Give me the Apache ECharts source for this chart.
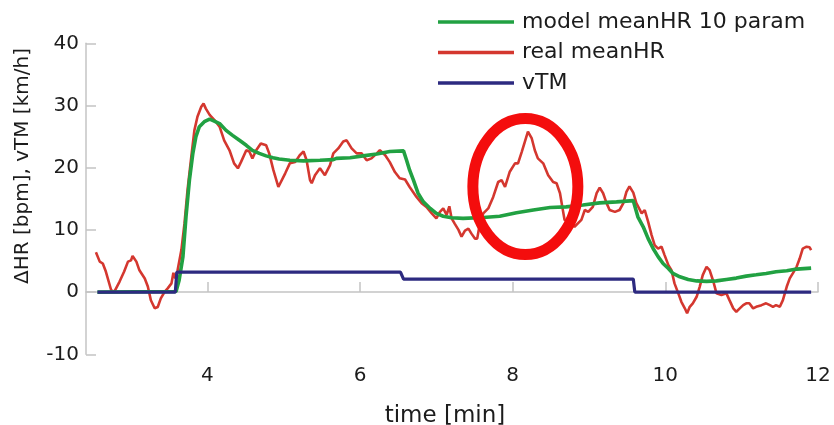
<!DOCTYPE html>
<html>
<head>
<meta charset="utf-8">
<script src="https://cdn.jsdelivr.net/npm/echarts@6/dist/echarts.min.js"></script>
<style>
  html, body { margin: 0; padding: 0; background: #fff; }
  #chart { width: 834px; height: 425px; }
</style>
</head>
<body>
<div id="chart"></div>
<script>
// Measured heart-rate response (real meanHR), time in minutes
const realT = [2.54, 2.59, 2.63, 2.67, 2.74, 2.78, 2.85, 2.91, 2.96, 3.00, 3.02, 3.07, 3.11, 3.18, 3.22, 3.26, 3.31, 3.35, 3.39, 3.44, 3.48, 3.53, 3.555, 3.58, 3.61, 3.66, 3.70, 3.74, 3.79, 3.83, 3.87, 3.92, 3.95, 3.98, 4.03, 4.09, 4.16, 4.22, 4.29, 4.35, 4.40, 4.44, 4.51, 4.55, 4.59, 4.64, 4.70, 4.77, 4.81, 4.865, 4.93, 5.02, 5.08, 5.15, 5.21, 5.26, 5.30, 5.345, 5.367, 5.41, 5.475, 5.54, 5.607, 5.65, 5.715, 5.78, 5.825, 5.89, 5.956, 6.02, 6.087, 6.15, 6.22, 6.26, 6.33, 6.39, 6.457, 6.52, 6.59, 6.65, 6.74, 6.807, 6.87, 6.94, 7.0, 7.047, 7.09, 7.135, 7.17, 7.2, 7.24, 7.29, 7.33, 7.375, 7.42, 7.46, 7.505, 7.535, 7.57, 7.615, 7.68, 7.745, 7.81, 7.855, 7.9, 7.96, 8.03, 8.07, 8.12, 8.16, 8.20, 8.25, 8.29, 8.33, 8.40, 8.465, 8.53, 8.575, 8.62, 8.65, 8.68, 8.73, 8.81, 8.9, 8.945, 8.99, 9.05, 9.1, 9.14, 9.185, 9.23, 9.27, 9.34, 9.40, 9.45, 9.49, 9.53, 9.58, 9.62, 9.69, 9.73, 9.775, 9.82, 9.86, 9.905, 9.95, 9.99, 10.04, 10.08, 10.12, 10.17, 10.21, 10.255, 10.285, 10.32, 10.36, 10.41, 10.45, 10.49, 10.54, 10.58, 10.63, 10.67, 10.735, 10.80, 10.84, 10.89, 10.93, 10.975, 11.02, 11.06, 11.1, 11.15, 11.19, 11.26, 11.32, 11.37, 11.41, 11.45, 11.5, 11.54, 11.59, 11.63, 11.67, 11.72, 11.76, 11.80, 11.85, 11.89, 11.91];
const realHR = [6.4, 4.9, 4.6, 3.3, 0.3, 0.05, 1.7, 3.3, 4.9, 5.1, 5.8, 4.9, 3.5, 2.2, 0.9, -1.3, -2.6, -2.4, -1.0, 0.05, 0.6, 1.4, 3.1, 2.2, 3.5, 6.8, 11.0, 16.4, 21.8, 26.0, 28.2, 29.8, 30.3, 29.5, 28.5, 27.7, 26.6, 24.4, 22.8, 20.7, 19.9, 20.9, 22.8, 22.6, 21.5, 22.8, 23.9, 23.6, 22.3, 19.6, 16.9, 19.1, 20.7, 20.9, 22.0, 22.6, 21.2, 18.0, 17.5, 18.8, 19.9, 18.8, 20.4, 22.3, 23.1, 24.2, 24.4, 23.1, 22.3, 22.3, 21.2, 21.5, 22.3, 22.8, 22.0, 20.9, 19.3, 18.3, 18.1, 16.9, 15.3, 14.3, 13.7, 12.65, 11.85, 12.9, 13.45, 12.4, 13.8, 11.85, 11.0, 10.0, 8.9, 9.9, 10.2, 9.4, 8.6, 8.6, 11.0, 12.65, 13.45, 15.3, 17.7, 18.0, 16.9, 19.3, 20.7, 20.7, 22.6, 24.2, 25.8, 24.7, 22.8, 21.5, 20.7, 18.8, 17.7, 17.5, 15.9, 13.7, 11.6, 11.3, 10.5, 11.6, 13.2, 12.9, 13.7, 15.9, 16.8, 15.9, 14.3, 13.2, 12.9, 13.2, 14.3, 16.1, 17.0, 16.0, 14.3, 12.65, 13.2, 11.3, 9.16, 7.56, 7.0, 7.3, 5.95, 4.34, 3.54, 1.4, -0.2, -1.56, -2.6, -3.4, -2.36, -1.8, -0.75, 0.85, 2.73, 4.07, 3.54, 1.66, -0.2, -0.48, -0.2, -1.29, -2.62, -3.16, -2.62, -2.1, -1.8, -1.8, -2.62, -2.36, -2.1, -1.8, -2.1, -2.36, -2.1, -2.36, -1.29, 0.85, 2.2, 3.0, 4.07, 5.4, 7.0, 7.3, 7.2, 6.75];

// Model output (10-parameter model)
const modelT = [2.56, 3.59, 3.63, 3.68, 3.72, 3.765, 3.81, 3.85, 3.895, 3.96, 4.03, 4.09, 4.16, 4.245, 4.33, 4.42, 4.51, 4.59, 4.68, 4.77, 4.86, 4.94, 5.08, 5.26, 5.475, 5.65, 5.69, 5.87, 6.04, 6.22, 6.39, 6.57, 6.61, 6.65, 6.70, 6.76, 6.83, 6.92, 7.0, 7.09, 7.2, 7.35, 7.615, 7.83, 8.05, 8.27, 8.49, 8.7, 8.92, 9.14, 9.36, 9.58, 9.64, 9.71, 9.775, 9.84, 9.905, 9.97, 10.04, 10.1, 10.19, 10.3, 10.41, 10.54, 10.67, 10.80, 10.93, 11.06, 11.19, 11.32, 11.45, 11.59, 11.72, 11.91];
const modelHR = [0, 0.1, 1.9, 5.7, 12.1, 18.0, 22.3, 25.0, 26.6, 27.4, 27.8, 27.5, 27.1, 26.0, 25.2, 24.4, 23.6, 22.8, 22.3, 21.9, 21.6, 21.4, 21.2, 21.1, 21.2, 21.3, 21.5, 21.6, 21.9, 22.2, 22.6, 22.7, 21.2, 19.6, 18.0, 15.9, 14.5, 13.45, 12.65, 12.2, 11.95, 11.85, 12.0, 12.2, 12.75, 13.2, 13.6, 13.7, 14.0, 14.35, 14.5, 14.7, 12.1, 10.5, 8.6, 7.0, 5.7, 4.6, 3.8, 3.0, 2.46, 2.04, 1.8, 1.72, 1.8, 2.04, 2.25, 2.57, 2.78, 3.0, 3.27, 3.43, 3.7, 3.86];

// Treadmill speed profile
const vtmT = [2.56, 3.58, 3.60, 6.53, 6.57, 9.58, 9.60, 11.91];
const vtmV = [0, 0, 3.2, 3.2, 2.1, 2.1, 0, 0];

const xTicks = [4, 6, 8, 10, 12];
const seriesNames = ['model meanHR 10 param', 'real meanHR', 'vTM'];

// Highlighted overshoot region (data coordinates of its centre)
const highlightCentre = [8.166, 16.96];

const zip = (a, b) => a.map((v, i) => [v, b[i]]);

const FONT = 'DejaVu Sans';
const TEXT = '#1c1c1c';
const AXIS = '#c4c4c4';
const GREEN = '#21a142';
const RED = '#d4372f';
const NAVY = '#2d2a80';

const chart = echarts.init(document.getElementById('chart'), null, { renderer: 'canvas' });

chart.setOption({
  animation: false,
  backgroundColor: '#ffffff',
  grid: { left: 86, right: 16, top: 43.3, bottom: 70.7, containLabel: false, outerBoundsMode: 'none' },
  legend: {
    data: seriesNames,
    orient: 'vertical',
    left: 433,
    top: 5,
    icon: 'rect',
    itemWidth: 76,
    itemHeight: 3.5,
    itemGap: 6.5,
    selectedMode: false,
    textStyle: { fontFamily: FONT, fontSize: 22, color: TEXT, lineHeight: 24, padding: [0, 0, 0, 3] }
  },
  xAxis: {
    type: 'value',
    min: 2.41,
    max: 12,
    name: 'time [min]',
    nameLocation: 'middle',
    nameGap: 50,
    nameTextStyle: { fontFamily: FONT, fontSize: 23, color: TEXT, padding: [0, 14, 0, 0] },
    axisLine: { show: true, lineStyle: { color: AXIS, width: 1.5 } },
    axisTick: { show: true, inside: true, length: 10, customValues: xTicks, lineStyle: { color: AXIS, width: 1.5 } },
    axisLabel: { customValues: xTicks, margin: 11, fontFamily: FONT, fontSize: 20, color: TEXT, showMinLabel: true, showMaxLabel: true },
    splitLine: { show: false }
  },
  yAxis: {
    type: 'value',
    min: -10,
    max: 40,
    interval: 10,
    axisLine: { show: true, lineStyle: { color: AXIS, width: 1.5 } },
    axisTick: { show: true, inside: true, length: 10, lineStyle: { color: AXIS, width: 1.5 } },
    axisLabel: { margin: 7, fontFamily: FONT, fontSize: 20, color: TEXT },
    splitLine: { show: false }
  },
  series: [
    {
      name: seriesNames[0], type: 'line', data: zip(modelT, modelHR),
      symbol: 'none', z: 3,
      lineStyle: { color: GREEN, width: 3.6 }, itemStyle: { color: GREEN }
    },
    {
      name: seriesNames[1], type: 'line', data: zip(realT, realHR),
      symbol: 'none', z: 2,
      lineStyle: { color: RED, width: 2.6 }, itemStyle: { color: RED }
    },
    {
      name: seriesNames[2], type: 'line', data: zip(vtmT, vtmV),
      symbol: 'none', z: 4,
      lineStyle: { color: NAVY, width: 3.2 }, itemStyle: { color: NAVY }
    }
  ]
});

// Rotated y-axis title and the red highlight ring around the overshoot
const c = chart.convertToPixel({ gridIndex: 0 }, highlightCentre);
chart.setOption({
  graphic: [
    {
      type: 'text',
      x: 23, y: 166,
      rotation: Math.PI / 2,
      style: {
        text: 'ΔHR [bpm], vTM [km/h]',
        font: '20px "DejaVu Sans"',
        fill: TEXT,
        align: 'center',
        verticalAlign: 'middle'
      }
    },
    {
      type: 'ellipse',
      z: 100,
      shape: { cx: c[0], cy: c[1], rx: 52.5, ry: 68 },
      style: { fill: null, stroke: '#f40d0d', lineWidth: 11 }
    }
  ]
});
</script>
</body>
</html>
